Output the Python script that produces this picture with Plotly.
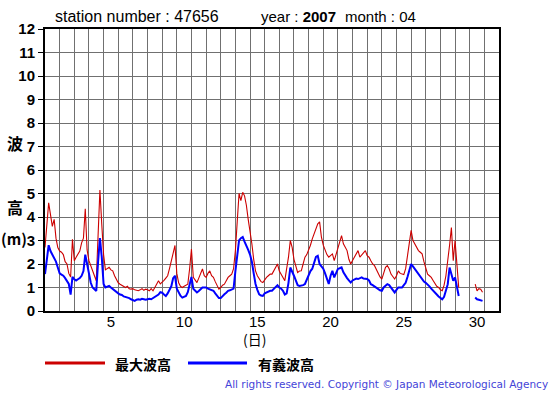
import plotly.graph_objects as go

# 3-hourly wave heights (m), April 2007, station 47656 (None = missing)
sig_wave = [
    1.57, 2.2, 2.8, 2.55, 2.4, 2.3, 2.1, 1.85,
    1.6, 1.55, 1.5, 1.4, 1.3, 1.15, 0.7, 1.45,
    1.35, 1.3, 1.35, 1.4, 1.5, 1.7, 2.4, 2.0,
    1.6, 1.2, 1.0, 0.9, 0.85, 2.1, 3.1, 2.3,
    1.15, 1.0, 1.05, 1.07, 1.0, 0.93, 0.88, 0.8,
    0.75, 0.7, 0.68, 0.62, 0.6, 0.57, 0.55, 0.5,
    0.45, 0.43, 0.48, 0.5, 0.48, 0.52, 0.5, 0.48,
    0.5, 0.52, 0.5, 0.55, 0.57, 0.62, 0.7, 0.8,
    0.78, 0.7, 0.64, 0.75, 0.9, 1.05, 1.4, 1.5,
    0.95, 0.8, 0.65, 0.57, 0.6, 0.64, 0.8, 1.1,
    1.45, 0.95, 0.85, 0.79, 0.85, 0.95, 1.0, 1.0,
    1.0, 0.95, 0.92, 0.88, 0.86, 0.75, 0.65, 0.55,
    0.55, 0.65, 0.71, 0.78, 0.86, 0.88, 0.93, 0.95,
    1.7, 2.4, 3.0, 3.1, 3.15, 2.95, 2.8, 2.6,
    2.4, 2.1, 1.6, 1.15, 0.9, 0.71, 0.66, 0.64,
    0.75, 0.79, 0.82, 0.86, 0.86, 0.95, 1.05, 1.1,
    1.0, 0.95, 0.86, 0.7, 0.75, 1.2, 1.85, 1.7,
    1.5, 1.3, 1.1, 1.07, 1.07, 1.1, 1.15, 1.35,
    1.55, 1.7, 1.8, 2.1, 2.3, 2.35, 2.0, 1.9,
    1.8, 1.6, 1.4, 1.15, 1.5, 1.71, 1.43, 1.6,
    1.79, 1.82, 1.86, 1.65, 1.5, 1.4, 1.3, 1.21,
    1.3, 1.36, 1.38, 1.36, 1.4, 1.43, 1.38, 1.36,
    1.36, 1.3, 1.14, 1.1, 1.05, 1.0, 0.92, 0.88,
    0.86, 1.0, 1.07, 1.14, 1.1, 1.0, 0.9, 0.79,
    0.9, 1.0, 1.0, 1.0, 1.1, 1.2, 1.45, 1.7,
    2.0, 1.9, 1.79, 1.65, 1.57, 1.45, 1.36, 1.25,
    1.2, 1.14, 1.05, 0.95, 0.85, 0.79, 0.7, 0.62,
    0.55, 0.5, 0.6, 0.85, 1.14, 1.85, 1.6, 1.29,
    1.43, 1.1, 0.64, None, None, None, None, None,
    None, None, None, 0.57, 0.5, 0.48, 0.46, 0.43,
]

max_wave = [
    2.7, 3.8, 4.6, 4.1, 3.6, 3.9, 3.1, 2.7,
    2.55, 2.5, 2.4, 2.1, 2.0, 1.6, 1.45, 3.05,
    2.14, 2.29, 2.4, 2.55, 2.9, 3.1, 4.35, 2.6,
    2.14, 1.9, 1.71, 1.5, 1.29, 3.0, 5.15, 3.7,
    2.4, 1.75, 1.8, 1.86, 1.75, 1.71, 1.5, 1.36,
    1.2, 1.14, 1.1, 1.05, 1.0, 1.05, 0.95, 0.93,
    0.95, 0.9, 0.88, 0.86, 0.9, 0.95, 0.88, 0.93,
    0.9, 0.86, 0.95, 0.86, 1.0, 1.14, 1.29, 1.15,
    1.21, 1.3, 1.4, 1.5, 1.8, 2.14, 2.5, 2.79,
    1.6, 1.2, 1.05, 1.0, 1.05, 1.1, 1.14, 1.8,
    2.64, 1.43, 1.3, 1.21, 1.4, 1.6, 1.79, 1.5,
    1.43, 1.6, 1.71, 1.5, 1.43, 1.25, 1.1, 0.93,
    1.0, 1.1, 1.14, 1.3, 1.43, 1.5, 1.57, 1.8,
    2.57, 3.8, 5.0, 4.7, 5.05, 4.9, 4.5, 3.9,
    3.43, 2.86, 2.2, 1.71, 1.5, 1.36, 1.25, 1.21,
    1.35, 1.43, 1.5, 1.57, 1.57, 1.7, 1.85, 2.0,
    1.7, 1.57, 1.45, 1.29, 1.8, 2.29, 3.0, 2.71,
    2.2, 1.93, 1.64, 1.7, 1.71, 2.0, 2.29, 2.4,
    2.57, 2.8, 3.07, 3.29, 3.5, 3.71, 3.79, 3.14,
    2.8, 2.57, 2.4, 2.29, 2.35, 2.43, 2.14, 2.4,
    2.71, 2.95, 3.21, 2.86, 2.7, 2.57, 2.2, 2.0,
    2.15, 2.29, 2.45, 2.57, 2.29, 2.4, 2.5, 2.57,
    2.35, 2.29, 2.14, 2.0, 1.93, 1.75, 1.57, 1.45,
    1.36, 1.6, 1.86, 1.93, 1.8, 1.57, 1.45, 1.36,
    1.5, 1.71, 1.6, 1.57, 1.55, 1.8, 2.3, 2.8,
    3.43, 3.0, 2.86, 2.7, 2.57, 2.5, 2.43, 2.1,
    1.8, 1.57, 1.5, 1.43, 1.3, 1.14, 1.05, 1.0,
    0.9, 0.86, 1.1, 1.5, 2.1, 2.8, 3.55, 2.14,
    3.0, 1.86, 1.0, None, None, None, None, None,
    None, None, None, 1.14, 0.86, 0.95, 0.93, 0.8,
]

step_hours = 3
day_pos = [i * step_hours / 24 for i in range(len(sig_wave))]  # days since Apr 1 00:00

tick_days = [5, 10, 15, 20, 25, 30]
tick_pos = [d - 0.5 for d in tick_days]
tick_text = [str(d) for d in tick_days]

y_ticks = list(range(0, 13))

RED = "#cc0000"
BLUE = "#0000ff"
FONT = "Liberation Sans, Arial, sans-serif"
CJK = "Noto Sans CJK JP, sans-serif"

fig = go.Figure()
fig.add_trace(go.Scatter(x=day_pos, y=max_wave, mode="lines", name="最大波高",
                         line=dict(color=RED, width=1.1), connectgaps=False))
fig.add_trace(go.Scatter(x=day_pos, y=sig_wave, mode="lines", name="有義波高",
                         line=dict(color=BLUE, width=2), connectgaps=False))

fig.update_layout(
    width=555, height=395,
    margin=dict(l=45, r=56, t=29, b=84),
    paper_bgcolor="white", plot_bgcolor="white",
    showlegend=False,
    font=dict(family=FONT, color="black"),
)
fig.update_xaxes(
    range=[0, 31], tickvals=tick_pos, ticktext=tick_text,
    showgrid=False, zeroline=False, ticks="",
    ticklabelstandoff=-4,
    tickfont=dict(size=15, family=FONT, color="black"),
    showline=True, linecolor="black", linewidth=2, mirror=True,
    minor=dict(dtick=1, tick0=0, showgrid=True, gridcolor="#707070", gridwidth=1, ticks=""),
)
fig.update_yaxes(
    range=[0, 12], tickvals=y_ticks,
    showgrid=True, gridcolor="#707070", gridwidth=1, zeroline=False,
    ticks="outside", ticklen=5, tickcolor="black",
    tickfont=dict(size=15, family=FONT, color="black", weight="bold"),
    showline=True, linecolor="black", linewidth=2, mirror=True,
)

ann = []
def add_text(x, y, text, size=15, family=FONT, xanchor="left", color="black", weight="normal"):
    ann.append(dict(x=x, y=y, xref="paper", yref="paper", text=text, showarrow=False,
                    xanchor=xanchor, yanchor="middle",
                    font=dict(size=size, family=family, color=color, weight=weight)))

def px_x(px):
    return (px - 45) / 454
def px_y(py):
    return (311 - py) / 282

add_text(px_x(53), px_y(17), "station number : 47656", size=16)
add_text(px_x(259), px_y(17), "year : <b>2007</b>", size=15)
add_text(px_x(343), px_y(17), "month : 04", size=15)
add_text(px_x(15), px_y(143), "波", size=16, family=CJK, xanchor="center", weight="bold")
add_text(px_x(15), px_y(207), "高", size=16, family=CJK, xanchor="center", weight="bold")
add_text(px_x(14), px_y(238), "(m)", size=15, family=CJK, xanchor="center", weight="bold")
add_text(px_x(254), px_y(339), "(日)", size=14, family=CJK, xanchor="center")
add_text(px_x(113), px_y(364), "最大波高", size=14, family=CJK, weight="bold")
add_text(px_x(256), px_y(364), "有義波高", size=14, family=CJK, weight="bold")
add_text(px_x(550), px_y(384), "All rights reserved. Copyright © Japan Meteorological Agency",
         size=10.5, family="DejaVu Sans, sans-serif", xanchor="right", color="#4444d8")
fig.update_layout(annotations=ann)

fig.add_shape(type="line", xref="paper", yref="paper",
              x0=px_x(45), x1=px_x(105), y0=px_y(363), y1=px_y(363),
              line=dict(color=RED, width=3))
fig.add_shape(type="line", xref="paper", yref="paper",
              x0=px_x(188), x1=px_x(247), y0=px_y(363), y1=px_y(363),
              line=dict(color=BLUE, width=3))

fig.write_html("out.html", config={"displayModeBar": False})

# remove default page margin so the figure sits at the window's top-left
with open("out.html", "r", encoding="utf-8") as f:
    html = f.read()
html = html.replace("<head>", "<head><style>html,body{margin:0;padding:0;}</style>", 1)
with open("out.html", "w", encoding="utf-8") as f:
    f.write(html)
